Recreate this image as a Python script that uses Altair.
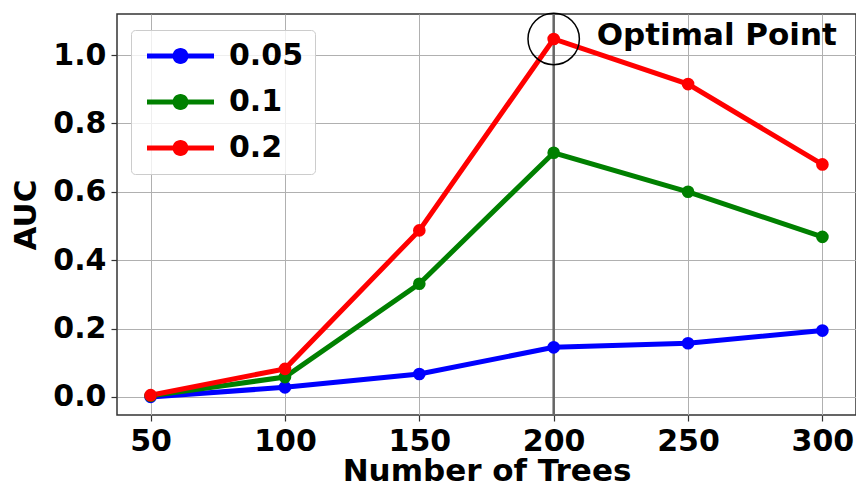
import altair as alt
import pandas as pd

trees = [50, 100, 150, 200, 250, 300]
series_names = ["0.05", "0.1", "0.2"]
auc_005 = [0.000, 0.028, 0.067, 0.145, 0.157, 0.194]
auc_01 = [0.003, 0.058, 0.331, 0.714, 0.600, 0.468]
auc_02 = [0.005, 0.082, 0.487, 1.047, 0.915, 0.680]
colors = ["#0000ff", "#008000", "#ff0000"]
optimal_x = 200
optimal_label = "Optimal Point"

rows = []
for name, vals in zip(series_names, [auc_005, auc_01, auc_02]):
    for t, v in zip(trees, vals):
        rows.append({"trees": t, "auc": v, "series": name})
df = pd.DataFrame(rows)
opt_df = pd.DataFrame({"trees": [optimal_x], "auc": [max(auc_02)], "label": [optimal_label]})

FONT = "DejaVu Sans"

x_scale = alt.Scale(domain=[37.5, 312.5], nice=False, zero=False)
y_scale = alt.Scale(domain=[-0.053, 1.12], nice=False, zero=False)

legend_path = ("M -1 -0.26 L 5.7 -0.26 L 5.7 0.26 L -1 0.26 Z "
               "M 3.15 0 A 0.8 0.8 0 1 1 1.55 0 A 0.8 0.8 0 1 1 3.15 0 Z")

color = alt.Color(
    "series:N",
    scale=alt.Scale(domain=series_names, range=colors),
    legend=alt.Legend(
        title=None, orient="none", legendX=14, legendY=16,
        symbolType=legend_path, symbolSize=400, symbolStrokeWidth=0,
        labelFont=FONT, labelFontSize=30, labelFontWeight="bold",
        labelOffset=57, rowPadding=16, padding=11,
        fillColor="rgba(255,255,255,0.8)", strokeColor="#cccccc",
        cornerRadius=4, symbolOpacity=1,
    ),
)

x_enc = alt.X("trees:Q", scale=x_scale, title="Number of Trees",
              axis=alt.Axis(values=trees, format="d"))
y_enc = alt.Y("auc:Q", scale=y_scale, title="AUC",
              axis=alt.Axis(values=[0, 0.2, 0.4, 0.6, 0.8, 1.0], format=".1f"))

vline = alt.Chart(opt_df).mark_rule(color="#666666", strokeWidth=2.5).encode(
    x=alt.X("trees:Q", scale=x_scale)
)

lines = alt.Chart(df).mark_line(strokeWidth=5).encode(
    x=x_enc, y=y_enc, color=color, order="trees:Q"
)
points = alt.Chart(df).mark_point(filled=True, size=160, opacity=1).encode(
    x=x_enc, y=y_enc,
    color=alt.Color("series:N", scale=alt.Scale(domain=series_names, range=colors), legend=None)
)

circle = alt.Chart(opt_df).mark_point(
    shape="circle", filled=False, size=2640, color="black", strokeWidth=1.5, opacity=1
).encode(x=alt.X("trees:Q", scale=x_scale), y=alt.Y("auc:Q", scale=y_scale))

text = alt.Chart(opt_df).mark_text(
    align="left", baseline="middle", dx=43, dy=-3,
    font=FONT, fontSize=31, fontWeight="bold", color="black"
).encode(x=alt.X("trees:Q", scale=x_scale), y=alt.Y("auc:Q", scale=y_scale), text="label:N")

chart = alt.layer(vline, lines, points, circle, text).properties(
    width=739, height=401,
    autosize=alt.AutoSizeParams(type="none"),
    padding={"left": 109, "top": 6, "right": 0, "bottom": 68},
).configure_view(
    stroke="#333333", strokeWidth=1.5
).configure_axis(
    labelFont=FONT, labelFontSize=30, labelFontWeight="bold", labelColor="black",
    titleFont=FONT, titleFontSize=31, titleFontWeight="bold", titleColor="black",
    grid=True, gridColor="#b0b0b0", gridWidth=1,
    domain=False, tickColor="#333333", tickSize=6, tickWidth=1.2,
    labelPadding=5,
).configure_axisY(
    titlePadding=10
).configure_axisX(
    titlePadding=0
)

chart.save("out.html", embed_options={"renderer": "svg", "actions": False})
